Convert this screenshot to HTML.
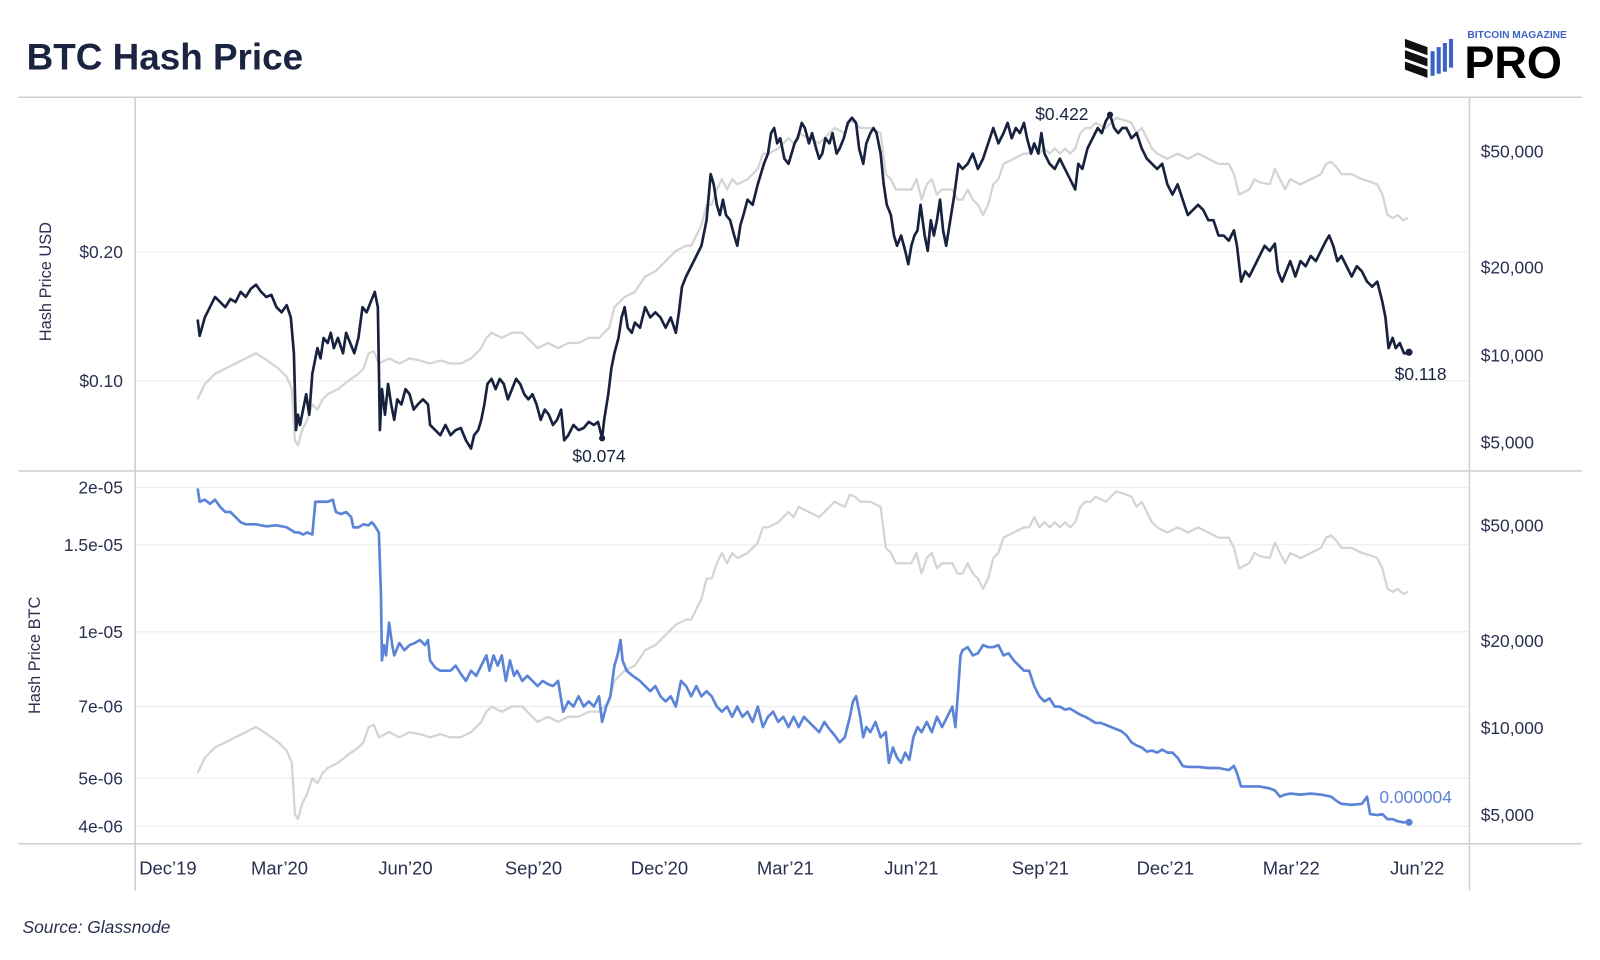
<!DOCTYPE html>
<html><head><meta charset="utf-8"><style>
html,body{margin:0;padding:0;background:#fff;}
svg{display:block;font-family:"Liberation Sans",sans-serif;}
</style></head><body>
<svg width="1600" height="960" viewBox="0 0 1562.5 937.5" preserveAspectRatio="none" xmlns="http://www.w3.org/2000/svg">
<text x="26" y="68" font-size="36" font-weight="bold" fill="#1b2440">BTC Hash Price</text>
<!-- logo -->
<g transform="translate(1372,38)">
<polygon points="0,0 22,8 22,16 0,8" fill="#111"/>
<polygon points="0,11 22,19 22,27 0,19" fill="#111"/>
<polygon points="0,22 22,30 22,38 0,30" fill="#111"/>
<rect x="25" y="12" width="4" height="24" fill="#3c63c4"/>
<rect x="31" y="8" width="4" height="26" fill="#3c63c4"/>
<rect x="37" y="4" width="4" height="28" fill="#3c63c4"/>
<rect x="43" y="0" width="4" height="28" fill="#3c63c4"/>
</g>
<text x="1433" y="37" font-size="10" font-weight="bold" fill="#3c63c4">BITCOIN MAGAZINE</text>
<text x="1430" y="76" font-size="44" font-weight="bold" fill="#000">PRO</text>
<!-- gridlines -->
<g stroke="#ececec" stroke-width="1">
<line x1="132" y1="246" x2="1435" y2="246"/><line x1="132" y1="372" x2="1435" y2="372"/>
<line x1="132" y1="476" x2="1435" y2="476"/><line x1="132" y1="532" x2="1435" y2="532"/>
<line x1="132" y1="617" x2="1435" y2="617"/><line x1="132" y1="690" x2="1435" y2="690"/>
<line x1="132" y1="760" x2="1435" y2="760"/><line x1="132" y1="807" x2="1435" y2="807"/>
</g>
<g stroke="#cfcfcf" stroke-width="1.5">
<line x1="18" y1="95" x2="1545" y2="95"/>
<line x1="18" y1="460" x2="1545" y2="460"/>
<line x1="18" y1="824" x2="1545" y2="824"/>
<line x1="132" y1="95" x2="132" y2="870"/>
<line x1="1435" y1="95" x2="1435" y2="870"/>
</g>
<!-- gray top -->
<polyline fill="none" stroke="#d4d4d4" stroke-width="2.2" stroke-linejoin="round" points="193,390 200,375 210,365 220,360 230,355 240,350 250,345 258,350 265,355 272,360 280,368 285,380 288,430 291,435 295,420 300,410 305,395 310,400 315,390 320,385 330,380 340,372 350,365 355,360 360,345 365,343 370,355 380,350 390,355 400,350 410,352 420,355 430,352 440,355 450,355 460,350 470,340 475,330 480,325 490,330 500,325 510,325 520,335 525,340 535,335 545,340 555,335 565,335 575,330 585,330 595,320 600,300 610,290 620,285 630,270 640,265 650,255 660,245 670,240 675,240 685,220 690,200 695,200 700,185 705,175 710,185 715,175 720,180 730,175 740,165 745,150 750,150 760,145 770,135 775,140 780,130 790,135 800,140 810,130 815,125 825,130 830,118 835,120 840,125 850,125 860,130 865,170 870,175 875,185 880,185 890,185 895,175 900,195 905,180 910,175 915,190 920,185 930,185 935,195 940,195 945,185 950,195 955,200 960,210 965,200 970,180 975,175 980,160 990,155 1000,150 1005,150 1010,140 1015,150 1020,145 1025,150 1030,145 1035,150 1040,145 1045,150 1050,145 1055,130 1060,125 1065,125 1070,120 1080,125 1085,120 1090,115 1100,118 1105,120 1110,130 1115,125 1120,135 1125,145 1130,150 1140,155 1150,150 1160,155 1170,150 1180,155 1190,160 1200,160 1205,170 1210,190 1220,185 1225,175 1230,178 1240,180 1245,165 1250,175 1255,185 1260,175 1270,180 1280,175 1290,170 1295,160 1300,158 1305,163 1310,170 1320,170 1330,175 1340,178 1345,180 1350,190 1355,210 1360,213 1365,210 1370,215 1375,213"/>
<use href="#g2"/>
<polyline transform="translate(0,365)" fill="none" stroke="#d4d4d4" stroke-width="2.2" stroke-linejoin="round" points="193,390 200,375 210,365 220,360 230,355 240,350 250,345 258,350 265,355 272,360 280,368 285,380 288,430 291,435 295,420 300,410 305,395 310,400 315,390 320,385 330,380 340,372 350,365 355,360 360,345 365,343 370,355 380,350 390,355 400,350 410,352 420,355 430,352 440,355 450,355 460,350 470,340 475,330 480,325 490,330 500,325 510,325 520,335 525,340 535,335 545,340 555,335 565,335 575,330 585,330 595,320 600,300 610,290 620,285 630,270 640,265 650,255 660,245 670,240 675,240 685,220 690,200 695,200 700,185 705,175 710,185 715,175 720,180 730,175 740,165 745,150 750,150 760,145 770,135 775,140 780,130 790,135 800,140 810,130 815,125 825,130 830,118 835,120 840,125 850,125 860,130 865,170 870,175 875,185 880,185 890,185 895,175 900,195 905,180 910,175 915,190 920,185 930,185 935,195 940,195 945,185 950,195 955,200 960,210 965,200 970,180 975,175 980,160 990,155 1000,150 1005,150 1010,140 1015,150 1020,145 1025,150 1030,145 1035,150 1040,145 1045,150 1050,145 1055,130 1060,125 1065,125 1070,120 1080,125 1085,120 1090,115 1100,118 1105,120 1110,130 1115,125 1120,135 1125,145 1130,150 1140,155 1150,150 1160,155 1170,150 1180,155 1190,160 1200,160 1205,170 1210,190 1220,185 1225,175 1230,178 1240,180 1245,165 1250,175 1255,185 1260,175 1270,180 1280,175 1290,170 1295,160 1300,158 1305,163 1310,170 1320,170 1330,175 1340,178 1345,180 1350,190 1355,210 1360,213 1365,210 1370,215 1375,213"/>
<!-- navy -->
<polyline fill="none" stroke="#18223f" stroke-width="2.6" stroke-linejoin="round" points="193,312 195,328 200,310 205,300 210,290 215,295 220,300 225,292 230,295 235,285 240,290 245,282 250,278 255,285 260,290 265,288 270,300 275,305 280,298 284,310 287,345 289,420 291,405 293,415 296,400 299,385 302,405 305,365 310,340 313,350 316,330 320,335 323,325 326,340 330,330 335,345 338,325 342,335 346,345 350,330 354,300 358,305 362,295 366,285 369,300 371,420 373,380 376,405 379,375 382,395 385,410 388,390 392,395 396,380 400,385 404,400 408,395 413,390 418,395 420,415 425,420 430,425 435,415 440,425 445,420 450,418 455,430 460,438 463,425 467,420 470,410 473,395 476,375 480,370 484,380 488,370 492,375 496,390 500,380 504,370 508,375 512,385 516,390 520,385 524,395 528,410 532,400 536,405 540,415 544,410 548,400 551,430 555,425 560,415 565,420 570,418 575,412 580,415 584,412 588,428 590,410 594,385 597,360 600,345 604,330 607,310 610,300 613,320 617,325 620,315 625,320 630,300 635,310 640,305 645,310 650,320 655,310 660,325 663,305 666,280 670,270 675,260 680,250 685,240 690,215 694,170 697,180 700,200 703,210 706,195 709,210 713,215 717,230 720,240 723,220 726,210 730,195 735,200 740,180 743,170 746,160 750,150 753,130 756,125 759,140 762,135 766,155 770,160 773,150 776,140 779,135 783,120 786,125 790,140 793,130 797,145 800,155 803,150 806,135 810,140 813,130 817,150 820,145 824,135 828,120 832,115 836,120 839,145 843,160 846,140 850,130 853,125 856,130 860,150 863,180 866,200 870,210 873,230 876,240 880,230 884,245 887,258 890,240 893,230 896,225 899,200 903,230 906,245 909,215 912,230 915,215 918,195 921,225 924,240 928,215 932,190 936,160 940,165 945,160 950,150 955,165 960,155 965,140 970,125 975,140 980,130 984,120 988,135 992,125 996,130 1000,120 1003,135 1007,150 1010,140 1014,150 1017,130 1020,150 1025,160 1030,165 1035,155 1040,165 1045,175 1050,185 1053,160 1057,165 1062,145 1067,135 1072,125 1076,130 1080,118 1084,112 1088,125 1092,130 1096,125 1100,125 1105,135 1110,130 1115,145 1120,155 1125,160 1130,165 1135,160 1140,180 1145,190 1150,180 1155,195 1160,210 1165,205 1170,200 1175,205 1180,215 1185,215 1190,230 1195,230 1200,235 1205,225 1208,240 1212,275 1216,265 1220,270 1225,260 1230,250 1235,240 1240,245 1245,238 1248,265 1252,275 1256,265 1260,255 1265,270 1270,255 1275,260 1280,250 1285,255 1290,245 1295,235 1298,230 1302,240 1306,255 1310,250 1315,260 1320,270 1325,260 1330,265 1335,275 1340,280 1345,275 1350,295 1353,310 1356,340 1360,330 1363,340 1367,335 1371,345 1376,345"/>
<circle cx="588" cy="428" r="3" fill="#18223f"/><circle cx="1084" cy="112" r="3" fill="#18223f"/><circle cx="1376" cy="344" r="3.5" fill="#18223f"/>
<g font-size="17" fill="#18223f">
<text x="559" y="451">$0.074</text>
<text x="1011" y="117">$0.422</text>
<text x="1362" y="371">$0.118</text>
</g>
<!-- blue -->
<polyline fill="none" stroke="#5b84d8" stroke-width="2.6" stroke-linejoin="round" points="193,477 195,490 200,488 205,492 210,488 215,495 220,500 225,500 230,505 235,510 240,512 250,512 260,514 270,513 280,515 285,518 288,520 292,520 296,522 300,520 305,522 308,490 312,490 320,490 325,488 328,500 333,502 338,500 343,505 345,515 350,515 355,512 360,513 363,510 365,512 370,520 372,580 373,645 375,630 377,640 380,608 383,630 385,640 390,628 395,635 400,630 405,628 410,625 415,630 418,625 420,645 425,652 430,655 440,655 445,650 450,658 455,665 460,655 465,660 470,650 475,640 478,655 482,640 486,650 490,640 494,665 498,645 502,660 505,655 510,665 515,660 520,665 525,670 530,665 535,668 540,670 545,665 550,695 555,685 560,690 565,680 570,690 575,685 580,690 585,680 588,705 592,690 596,680 600,650 603,640 606,625 608,645 612,655 618,660 625,665 630,670 635,675 640,670 645,680 650,685 655,680 660,690 665,665 670,670 675,680 680,670 685,680 690,675 695,680 700,690 705,695 710,690 715,700 720,690 725,700 730,695 735,705 740,690 745,710 750,700 755,695 760,705 765,700 770,710 775,700 780,710 785,700 790,705 795,710 800,715 805,705 810,712 815,718 820,725 825,720 830,700 833,685 836,680 840,700 843,720 846,710 850,715 855,705 860,720 865,715 868,745 872,730 876,740 880,745 884,735 888,742 892,720 896,710 900,715 905,705 910,715 915,700 920,710 925,700 930,690 933,710 936,670 938,640 940,635 945,632 950,640 955,638 960,630 965,632 970,632 975,630 980,640 985,638 990,645 995,650 1000,655 1005,655 1010,670 1015,680 1020,685 1025,682 1030,690 1035,690 1040,693 1045,692 1050,695 1055,698 1060,700 1065,703 1070,706 1075,706 1080,708 1085,710 1090,712 1095,714 1100,718 1105,725 1110,728 1115,730 1120,734 1125,733 1130,735 1135,732 1140,735 1145,735 1150,740 1155,748 1160,749 1170,749 1180,750 1190,750 1200,752 1205,748 1208,755 1212,768 1220,768 1230,768 1240,770 1245,772 1250,778 1255,776 1260,775 1270,776 1280,775 1290,776 1300,778 1305,782 1310,785 1320,786 1330,785 1335,778 1338,795 1345,796 1350,795 1355,800 1360,800 1365,802 1370,803 1376,803"/>
<circle cx="1376" cy="803" r="3.5" fill="#5b84d8"/>
<text x="1347" y="784" font-size="17" fill="#5b84d8">0.000004</text>
<!-- left ticks -->
<g font-size="17" fill="#2a3150" text-anchor="end">
<text x="120" y="252">$0.20</text><text x="120" y="378">$0.10</text>
<text x="120" y="482">2e-05</text><text x="120" y="538">1.5e-05</text>
<text x="120" y="623">1e-05</text><text x="120" y="696">7e-06</text>
<text x="120" y="766">5e-06</text><text x="120" y="813">4e-06</text>
</g>
<g font-size="17" fill="#2a3150">
<text x="1446" y="154">$50,000</text><text x="1446" y="267">$20,000</text>
<text x="1446" y="353">$10,000</text><text x="1446" y="438">$5,000</text>
<text x="1446" y="519">$50,000</text><text x="1446" y="632">$20,000</text>
<text x="1446" y="717">$10,000</text><text x="1446" y="802">$5,000</text>
</g>
<text transform="translate(50,275) rotate(-90)" font-size="16" fill="#2a3150" text-anchor="middle">Hash Price USD</text>
<text transform="translate(39,640) rotate(-90)" font-size="16" fill="#2a3150" text-anchor="middle">Hash Price BTC</text>
<g font-size="18" fill="#2a3150" text-anchor="middle">
<text x="164" y="854">Dec’19</text><text x="273" y="854">Mar’20</text><text x="396" y="854">Jun’20</text>
<text x="521" y="854">Sep’20</text><text x="644" y="854">Dec’20</text><text x="767" y="854">Mar’21</text>
<text x="890" y="854">Jun’21</text><text x="1016" y="854">Sep’21</text><text x="1138" y="854">Dec’21</text>
<text x="1261" y="854">Mar’22</text><text x="1384" y="854">Jun’22</text>
</g>
<text x="22" y="911" font-size="17" font-style="italic" fill="#2a3150">Source: Glassnode</text>
</svg>
</body></html>
